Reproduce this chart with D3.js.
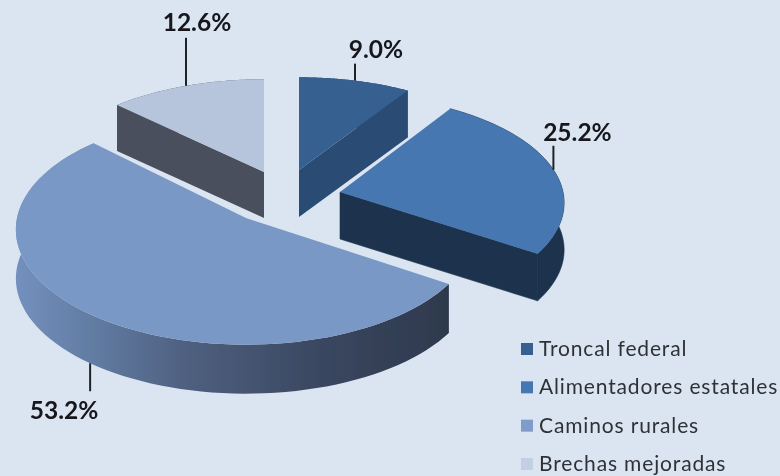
<!DOCTYPE html>
<html>
<head>
<meta charset="utf-8">
<script src="https://cdn.jsdelivr.net/npm/d3@7"></script>
<style>
  html, body { margin: 0; padding: 0; background: #dbe5f1; overflow: hidden; }
  text { font-family: Lato, "Open Sans", sans-serif; }
</style>
</head>
<body>
<div id="d3-chart"></div>
<script>
const categories = ["Troncal federal", "Alimentadores estatales", "Caminos rurales", "Brechas mejoradas"];
const values = [9.0, 25.2, 53.2, 12.6];
const valueLabels = ["9.0%", "25.2%", "53.2%", "12.6%"];

const topColors = ["#34608f", "#4677b0", "#7a98c6", "#b6c5dc"];
const sideColors = ["#2a4c73", "#1b324e", "url(#wall)", "#4a505c"];
const legendColors = ["#34608f", "#4677b0", "#7f9ccb", "#c3cfe2"];

// each slice is pulled out of the pie, so it has its own centre and radii
const explode = [
  { cx: 299, cy: 170, rx: 220, ry: 102, depth: 47 },
  { cx: 340, cy: 192, rx: 223, ry: 107, depth: 47 },
  { cx: 246, cy: 218, rx: 229, ry: 114, depth: 49 },
  { cx: 264, cy: 172, rx: 221, ry: 102, depth: 46 }
];
// leader line length and direction, label offset from line end
const leaders = [
  { len: 17, up: true, dx: 21, dy: -6 },
  { len: 24, up: true, dx: 24, dy: -5 },
  { len: 28, up: false, dx: -26, dy: 28 },
  { len: 48, up: true, dx: 11, dy: -7 }
];

const width = 780;
const height = 476;
const perspective = 0.1;

const svg = d3.select("#d3-chart")
  .append("svg")
  .attr("width", width)
  .attr("height", height)
  .style("display", "block");

const defs = svg.append("defs");

defs.append("filter")
  .attr("id", "soft")
  .append("feGaussianBlur")
  .attr("stdDeviation", 0.6);

const wall = defs.append("linearGradient")
  .attr("id", "wall")
  .attr("gradientUnits", "userSpaceOnUse")
  .attr("x1", 18).attr("x2", 450)
  .attr("y1", 0).attr("y2", 0);
[[0, "#7390bd"], [0.2, "#5f789e"], [0.4, "#4e5f7e"], [0.7, "#3a4760"], [1, "#2e394d"]]
  .forEach(s => wall.append("stop").attr("offset", s[0]).attr("stop-color", s[1]));

const root = svg.append("g").attr("filter", "url(#soft)");

root.append("rect")
  .attr("x", -5).attr("y", -5)
  .attr("width", width + 10).attr("height", height + 10)
  .attr("fill", "#dbe5f1");

// angles clockwise from 12 o'clock
const pie = d3.pie().sort(null).value(d => d);
const arcs = pie(values);

// tilted disc with a little perspective, near side comes out larger
function project(layout, a, drop) {
  const f = 1 / (1 + perspective * Math.cos(a));
  return [
    layout.cx + layout.rx * Math.sin(a) * f,
    layout.cy - layout.ry * Math.cos(a) * f + (drop || 0)
  ];
}

function arcPoints(layout, a0, a1, drop) {
  const n = 80;
  return d3.range(n + 1).map(i => project(layout, a0 + (a1 - a0) * i / n, drop));
}

const line = d3.line();

// which cut face shows: Troncal its end, Alimentadores its end, Brechas its start
const cutAngle = [arcs[0].endAngle, arcs[1].endAngle, null, arcs[3].startAngle];
// back slices first so that the big one sits on top
const order = [3, 0, 1, 2];

order.forEach(i => {
  const d = arcs[i];
  const l = explode[i];
  const g = root.append("g");

  // outer wall, Alimentadores needs a stroke to hide the seam with its cut face
  const upper = arcPoints(l, d.startAngle, d.endAngle, 0);
  const lower = arcPoints(l, d.startAngle, d.endAngle, l.depth).reverse();
  g.append("path")
    .attr("d", line(upper.concat(lower)) + "Z")
    .attr("fill", sideColors[i])
    .attr("stroke", i === 1 ? sideColors[i] : "none")
    .attr("stroke-width", 0.6);

  // cut face
  if (cutAngle[i] !== null) {
    const apex = [l.cx, l.cy];
    const rimTop = project(l, cutAngle[i], 0);
    const rimBottom = project(l, cutAngle[i], l.depth);
    g.append("path")
      .attr("d", line([apex, rimTop, rimBottom, [l.cx, l.cy + l.depth]]) + "Z")
      .attr("fill", sideColors[i])
      .attr("stroke", i === 1 ? sideColors[i] : "none")
      .attr("stroke-width", 0.6);
  }

  // top face
  g.append("path")
    .attr("d", line([[l.cx, l.cy]].concat(upper)) + "Z")
    .attr("fill", topColors[i]);
});

// leader lines and value labels
arcs.forEach((d, i) => {
  const l = explode[i];
  const lead = leaders[i];
  const mid = (d.startAngle + d.endAngle) / 2;
  const p = project(l, mid, lead.up ? 0 : l.depth);
  const yEnd = lead.up ? p[1] - lead.len : p[1] + lead.len;
  root.append("line")
    .attr("x1", p[0]).attr("x2", p[0])
    .attr("y1", p[1]).attr("y2", yEnd)
    .attr("stroke", "#1f2328")
    .attr("stroke-width", 2);
  root.append("text")
    .attr("x", p[0] + lead.dx)
    .attr("y", yEnd + lead.dy)
    .attr("text-anchor", "middle")
    .attr("font-size", 24.5)
    .attr("font-weight", 700)
    .attr("fill", "#14171b")
    .text(valueLabels[i]);
});

// legend
const legendY = d3.scalePoint()
  .domain(categories)
  .range([349, 464]);

const legend = root.selectAll(".legend")
  .data(categories)
  .enter()
  .append("g")
  .attr("transform", d => "translate(521," + legendY(d) + ")");

legend.append("rect")
  .attr("y", -6)
  .attr("width", 12)
  .attr("height", 12)
  .attr("fill", (d, i) => legendColors[i]);

legend.append("text")
  .attr("x", 18)
  .attr("y", 7)
  .attr("font-size", 21)
  .attr("letter-spacing", 0.85)
  .attr("fill", "#2e3237")
  .text(d => d);
</script>
</body>
</html>
